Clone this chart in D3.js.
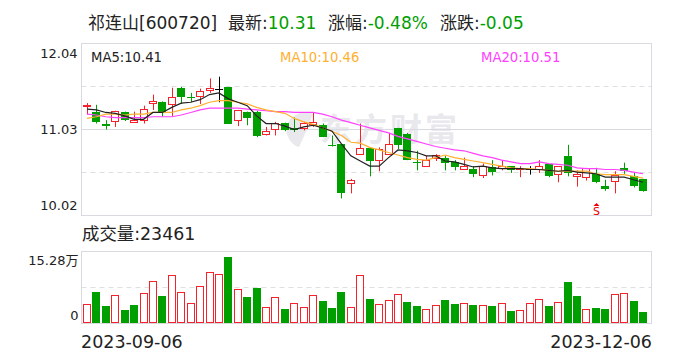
<!DOCTYPE html>
<html>
<head>
<meta charset="utf-8">
<script src="https://cdn.jsdelivr.net/npm/d3@7"></script>
<style>
  html, body { margin: 0; padding: 0; background: #fff; }
  svg { display: block; }
  text { font-family: Tahoma, "DejaVu Sans", "Noto Sans CJK SC", sans-serif; fill: #222; }
</style>
</head>
<body>
<svg id="chart"></svg>
<script>
const dates = ['2023-09-06','2023-09-07','2023-09-08','2023-09-11','2023-09-12','2023-09-13','2023-09-14','2023-09-15','2023-09-18','2023-09-19','2023-09-20','2023-09-21','2023-09-22','2023-09-25','2023-09-26','2023-09-27','2023-09-28','2023-10-09','2023-10-10','2023-10-11','2023-10-12','2023-10-13','2023-10-16','2023-10-17','2023-10-18','2023-10-19','2023-10-20','2023-10-23','2023-10-24','2023-10-25','2023-10-26','2023-10-27','2023-10-30','2023-10-31','2023-11-01','2023-11-02','2023-11-03','2023-11-06','2023-11-07','2023-11-08','2023-11-09','2023-11-10','2023-11-13','2023-11-14','2023-11-15','2023-11-16','2023-11-17','2023-11-20','2023-11-21','2023-11-22','2023-11-23','2023-11-24','2023-11-27','2023-11-28','2023-11-29','2023-11-30','2023-12-01','2023-12-04','2023-12-05','2023-12-06'];

const open  = [11.30,11.24,11.10,11.12,11.24,11.12,11.14,11.34,11.35,11.32,11.52,11.41,11.42,11.49,11.50,11.53,11.13,11.24,11.24,10.98,11.03,11.11,11.05,11.04,11.09,11.08,10.85,10.86,10.39,10.74,10.81,10.66,10.73,11.05,10.98,10.65,10.60,10.70,10.69,10.65,10.57,10.57,10.50,10.59,10.58,10.60,10.56,10.56,10.56,10.62,10.50,10.72,10.48,10.46,10.51,10.37,10.42,10.58,10.48,10.45];
const close = [11.31,11.12,11.08,11.24,11.15,11.14,11.27,11.36,11.22,11.40,11.41,11.40,11.48,11.51,11.50,11.10,11.25,11.17,10.96,11.01,11.10,11.03,11.03,11.10,11.11,10.94,10.84,10.29,10.43,10.81,10.66,10.79,10.85,10.85,10.68,10.64,10.67,10.73,10.63,10.59,10.60,10.51,10.60,10.53,10.60,10.55,10.57,10.56,10.60,10.48,10.59,10.52,10.50,10.57,10.42,10.33,10.49,10.54,10.36,10.31];
const high  = [11.34,11.32,11.14,11.25,11.24,11.24,11.31,11.44,11.36,11.52,11.53,11.46,11.51,11.63,11.65,11.53,11.26,11.24,11.25,11.06,11.12,11.11,11.17,11.12,11.23,11.10,10.96,10.86,10.45,11.10,10.81,10.82,10.99,11.05,10.99,10.78,10.72,10.74,10.72,10.67,10.70,10.60,10.63,10.67,10.67,10.60,10.60,10.60,10.67,10.62,10.60,10.85,10.55,10.58,10.58,10.44,10.54,10.64,10.52,10.45];
const low   = [11.21,11.10,11.03,11.06,11.13,11.11,11.10,11.26,11.18,11.19,11.33,11.35,11.33,11.46,11.35,11.10,11.07,11.08,10.94,10.96,10.96,11.01,11.00,11.02,11.06,10.94,10.83,10.22,10.28,10.74,10.48,10.54,10.73,10.80,10.67,10.55,10.60,10.66,10.55,10.55,10.57,10.47,10.46,10.49,10.55,10.52,10.47,10.50,10.52,10.47,10.41,10.48,10.36,10.43,10.40,10.31,10.28,10.51,10.35,10.30];

const ma5  = [11.27,11.26,11.23,11.22,11.19,11.15,11.15,11.23,11.23,11.29,11.34,11.35,11.38,11.44,11.46,11.39,11.35,11.31,11.19,11.10,11.10,11.07,11.03,11.06,11.08,11.05,11.01,10.86,10.72,10.66,10.60,10.60,10.70,10.79,10.78,10.76,10.72,10.72,10.66,10.65,10.62,10.59,10.60,10.58,10.57,10.57,10.57,10.56,10.56,10.55,10.54,10.55,10.53,10.52,10.51,10.47,10.47,10.47,10.44,10.41];
const ma10 = [11.16,11.18,11.21,11.21,11.20,11.21,11.21,11.23,11.23,11.23,11.26,11.28,11.31,11.35,11.37,11.37,11.35,11.33,11.29,11.26,11.24,11.22,11.16,11.12,11.09,11.05,11.01,10.96,10.88,10.87,10.82,10.79,10.76,10.73,10.70,10.68,10.67,10.70,10.73,10.70,10.68,10.66,10.64,10.62,10.60,10.58,10.57,10.57,10.56,10.55,10.54,10.54,10.54,10.54,10.51,10.50,10.50,10.50,10.48,10.46];
const ma20 = [11.21,11.20,11.18,11.17,11.17,11.17,11.17,11.18,11.18,11.18,11.20,11.23,11.26,11.28,11.28,11.28,11.28,11.27,11.26,11.25,11.24,11.24,11.23,11.23,11.23,11.21,11.18,11.14,11.11,11.08,11.05,11.02,10.99,10.95,10.92,10.89,10.86,10.83,10.81,10.79,10.78,10.75,10.72,10.70,10.67,10.65,10.63,10.63,10.65,10.63,10.62,10.61,10.58,10.57,10.57,10.56,10.56,10.55,10.53,10.51];

// in units of 10000 lots
const volume = [3.96,6.79,3.82,5.87,2.97,4.03,6.29,8.84,5.94,10.11,6.51,4.17,7.78,10.75,10.33,14.21,7.14,5.52,7.64,3.32,5.45,3.18,4.17,3.32,5.87,4.88,3.39,6.58,3.32,10.11,5.30,3.96,4.81,6.08,4.46,3.61,2.90,3.75,5.09,4.24,4.17,4.03,3.75,3.61,4.17,2.55,2.69,4.17,5.02,3.61,4.38,8.91,5.94,2.90,3.39,3.18,6.08,6.29,4.88,2.35];
const volumeUp = [1,0,0,1,0,0,1,1,0,1,1,1,1,1,1,0,1,0,0,1,1,0,1,1,1,0,0,0,1,1,0,1,1,1,0,0,1,1,0,0,1,0,1,0,1,0,1,1,1,0,1,0,0,1,0,0,1,1,0,0];

const priceTicks = [12.04, 11.03, 10.02];
const priceGrid = [11.535, 10.525];
const volumeTicks = [15.28, 0];
const sellSignalDate = '2023-11-29';

const width = 688;
const height = 360;
const red = '#f5222b';
const green = '#009f00';
const borderColor = '#d9d9e1';
const gridColor = '#dfdfdf';
const watermarkColor = '#e8e8ed';

const svg = d3.select('#chart').attr('width', width).attr('height', height);

const plotLeft = 81.5;
const plotRight = 651.5;

const x = d3.scaleBand()
  .domain(dates)
  .range([82.3, 647.7]);

const yPrice = d3.scaleLinear().domain([10.02, 12.04]).range([215.5, 43.5]);
const yVolume = d3.scaleLinear().domain([0, 15.28]).range([323.5, 251.5]);

const cx = d => Math.round(x(d) + x.bandwidth() / 2) + 0.5;
const snap = v => Math.round(v - 0.5) + 0.5;

// title line
const title = svg.append('text').attr('x', 88).attr('y', 29).style('font-size', '17px');
title.append('tspan').text('祁连山[600720]');
title.append('tspan').attr('x', 228).text('最新:');
title.append('tspan').style('fill', green).text('10.31');
title.append('tspan').attr('x', 328).text('涨幅:');
title.append('tspan').style('fill', green).text('-0.48%');
title.append('tspan').attr('x', 440).text('涨跌:');
title.append('tspan').style('fill', green).text('-0.05');

// watermark
const mark = svg.append('g').attr('class', 'watermark');
mark.append('path')
  .attr('d', 'M304,112 C292,114 284,124 287,134 C289,141 294,146 299,147 C303,139 308,127 313,114 C310,112 307,112 304,112 Z')
  .attr('fill', watermarkColor);
mark.append('text')
  .attr('x', 320).attr('y', 141)
  .style('font-size', '32px').style('font-weight', 'bold').style('letter-spacing', '3px')
  .style('font-family', '"Noto Sans CJK SC"').style('fill', watermarkColor)
  .text('东方财富');

// price grid
svg.append('g').selectAll('line').data(priceGrid).join('line')
  .attr('x1', plotLeft).attr('x2', plotRight)
  .attr('y1', d => snap(yPrice(d))).attr('y2', d => snap(yPrice(d)))
  .attr('stroke', gridColor).attr('stroke-dasharray', '5,4');
svg.append('line')
  .attr('x1', plotLeft).attr('x2', plotRight)
  .attr('y1', snap(yPrice(11.03))).attr('y2', snap(yPrice(11.03)))
  .attr('stroke', borderColor);

// price axis, the bottom label sits above the frame edge
const priceAxis = d3.axisLeft(yPrice).tickValues(priceTicks).tickSize(0).tickPadding(4)
  .tickFormat(d3.format('.2f'));
const priceAxisG = svg.append('g')
  .attr('transform', `translate(${plotLeft},0)`)
  .call(priceAxis);
priceAxisG.select('.domain').remove();
priceAxisG.selectAll('text')
  .style('font-size', '13px')
  .attr('dy', d => d === 12.04 ? '14' : d === 10.02 ? '-6' : '3.5');

svg.append('rect')
  .attr('x', plotLeft).attr('y', yPrice(12.04))
  .attr('width', plotRight - plotLeft).attr('height', yPrice(10.02) - yPrice(12.04))
  .attr('fill', 'none').attr('stroke', borderColor);

// candles
const candles = dates.map((date, i) => ({ date, o: open[i], c: close[i], h: high[i], l: low[i] }));
const candleColor = d => d.c > d.o ? red : d.c < d.o ? green : '#000';

const candleG = svg.append('g').selectAll('g').data(candles).join('g');
candleG.append('line')
  .attr('x1', d => cx(d.date)).attr('x2', d => cx(d.date))
  .attr('y1', d => yPrice(d.h)).attr('y2', d => yPrice(d.l))
  .attr('stroke', candleColor);
candleG.filter(d => d.c > d.o).append('rect')
  .attr('x', d => cx(d.date) - 4).attr('width', 7)
  .attr('y', d => snap(yPrice(d.c)))
  .attr('height', d => Math.max(1, Math.round(yPrice(d.o) - yPrice(d.c))))
  .attr('fill', '#fff').attr('stroke', red);
candleG.filter(d => d.c < d.o).append('rect')
  .attr('x', d => cx(d.date) - 4.5).attr('width', 8)
  .attr('y', d => Math.round(yPrice(d.o)))
  .attr('height', d => Math.max(1, Math.round(yPrice(d.c) - yPrice(d.o))))
  .attr('fill', green);
candleG.filter(d => d.c === d.o).append('line')
  .attr('x1', d => cx(d.date) - 4.5).attr('x2', d => cx(d.date) + 3.5)
  .attr('y1', d => snap(yPrice(d.o))).attr('y2', d => snap(yPrice(d.o)))
  .attr('stroke', '#000');

// moving averages
const maLine = d3.line()
  .x((d, i) => x(dates[i]) + x.bandwidth() / 2)
  .y(d => yPrice(d));
[[ma20, '#ff40ff'], [ma10, '#ffb030'], [ma5, '#222']].forEach(([values, color]) => {
  svg.append('path')
    .datum(values)
    .attr('d', maLine)
    .attr('fill', 'none')
    .attr('stroke', color)
    .attr('stroke-width', 1.2);
});

// legend
svg.append('text').attr('x', 91).attr('y', 62).style('font-size', '13.2px').text('MA5:10.41');
svg.append('text').attr('x', 280).attr('y', 62).style('font-size', '13.2px').style('fill', '#ffb030').text('MA10:10.46');
svg.append('text').attr('x', 481).attr('y', 62).style('font-size', '13.2px').style('fill', '#ff40ff').text('MA20:10.51');

// sell signal
const sx = cx(sellSignalDate);
svg.append('path')
  .attr('d', `M${sx},203 l3,3 h-6 Z`)
  .attr('fill', '#e00');
svg.append('text')
  .attr('x', sx).attr('y', 214.5).attr('text-anchor', 'middle')
  .style('font-size', '11px').style('fill', '#e00').text('S');

// volume panel
svg.append('text').attr('x', 82).attr('y', 240).style('font-size', '17.4px').text('成交量:23461');

svg.append('line')
  .attr('x1', plotLeft).attr('x2', plotRight)
  .attr('y1', 287.5).attr('y2', 287.5)
  .attr('stroke', gridColor).attr('stroke-dasharray', '5,4');

const volumeAxis = d3.axisLeft(yVolume).tickValues(volumeTicks).tickSize(0).tickPadding(3)
  .tickFormat(d => d === 0 ? '0' : d + '万');
const volumeAxisG = svg.append('g')
  .attr('transform', `translate(${plotLeft},0)`)
  .call(volumeAxis);
volumeAxisG.select('.domain').remove();
volumeAxisG.selectAll('text')
  .style('font-size', '13px')
  .attr('dy', d => d === 0 ? '-4' : '13');

svg.append('rect')
  .attr('x', plotLeft).attr('y', yVolume(15.28))
  .attr('width', plotRight - plotLeft).attr('height', yVolume(0) - yVolume(15.28))
  .attr('fill', 'none').attr('stroke', borderColor);

const bars = svg.append('g').selectAll('rect')
  .data(volume.map((v, i) => ({ v, up: volumeUp[i], date: dates[i] })))
  .join('rect');
bars.filter(d => d.up)
  .attr('x', d => cx(d.date) - 4).attr('width', 7)
  .attr('y', d => snap(yVolume(d.v)))
  .attr('height', d => yVolume(0) - 1 - snap(yVolume(d.v)))
  .attr('fill', '#fff').attr('stroke', red);
bars.filter(d => !d.up)
  .attr('x', d => cx(d.date) - 4.5).attr('width', 8)
  .attr('y', d => Math.round(yVolume(d.v)))
  .attr('height', d => 323 - Math.round(yVolume(d.v)))
  .attr('fill', green);

// date labels
svg.append('text').attr('x', 81).attr('y', 348).style('font-size', '17.5px').text(dates[0]);
svg.append('text').attr('x', 652).attr('y', 348).attr('text-anchor', 'end').style('font-size', '17.5px').text(dates[dates.length - 1]);
</script>
</body>
</html>
